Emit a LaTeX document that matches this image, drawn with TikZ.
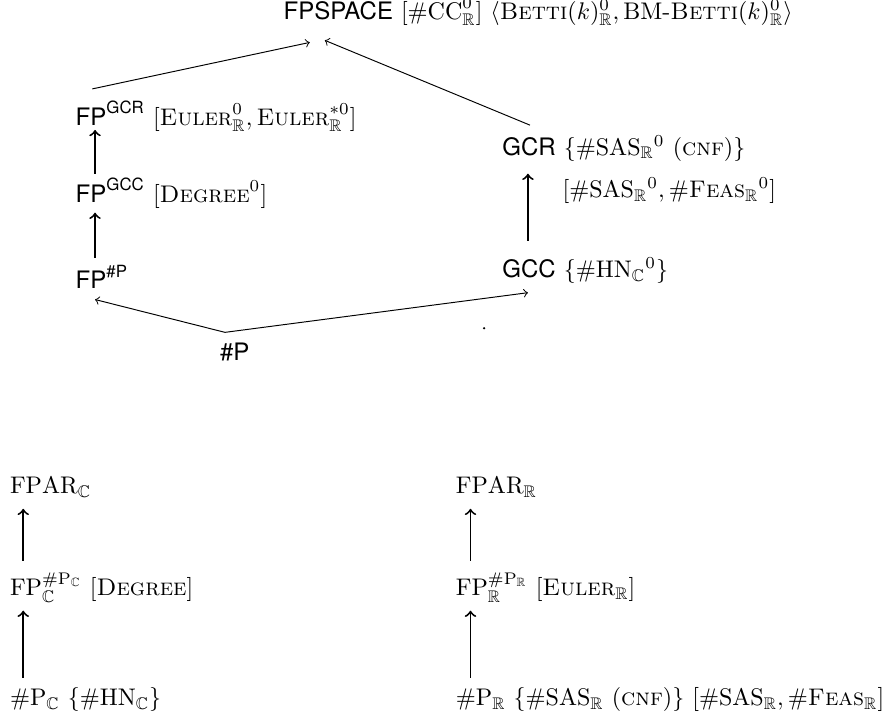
\documentclass[tikz,border=0pt]{standalone}
\usepackage{amsmath}
\usepackage{amssymb}
\usepackage{fontspec}
\setsansfont{TeX Gyre Heros}
\usepackage{tikz}
\newcommand{\Rb}{\mathbb{R}}
\newcommand{\Cb}{\mathbb{C}}
\newcommand{\Sc}[1]{\text{\textsc{#1}}}
\tikzset{lbl/.style={anchor=base west, inner sep=0pt},
	up/.style={thick,->},
	slant/.style={->}}

\begin{document}
\begin{tikzpicture}
			\useasboundingbox (0,0) rectangle (13.00,10.61);
			% upper part
			\node[lbl] (fpspace) at (4.14,10.33) {\textsf{FPSPACE} $[\#\mathrm{CC}^0_{\Rb}]$ $\langle\Sc{Betti}(k)^0_{\Rb}, \text{BM-}\Sc{Betti}(k)^0_{\Rb}\rangle$};
			\node[lbl] (fpgcr) at (1.10,8.78) {$\textsf{FP}^{\textsf{GCR}}$ $[\Sc{Euler}^0_{\Rb}, \Sc{Euler}^{*0}_{\Rb}]$};
			\node[lbl] (fpgcc) at (1.10,7.65) {$\textsf{FP}^{\textsf{GCC}}$ $[\Sc{Degree}^0]$};
			\node[lbl] (fpsp) at (1.10,6.39) {$\textsf{FP}^{\textsf{\#P}}$};
			\node[lbl] (sharpp) at (3.21,5.34) {\textsf{\#P}};
			\node[lbl] (gcr) at (7.34,8.34) {\textsf{GCR} $\{\#\mathrm{SAS}_{\Rb}{}^0$ (\textsc{cnf})$\}$};
			\node[lbl] (gcrb) at (8.22,7.72) {$[\#\mathrm{SAS}_{\Rb}{}^0, \#\Sc{Feas}_{\Rb}{}^0]$};
			\node[lbl] (gcc) at (7.34,6.55) {\textsf{GCC} $\{\#\mathrm{HN}_{\Cb}{}^0\}$};
			\coordinate (apex) at ([shift={(0.08,0.41)}]sharpp.base west);
			
			\draw[slant] ([shift={(0.25,0.53)}]fpgcr.base west) -- ([shift={(0.39,-0.34)}]fpspace.base west);
			\draw[slant] ([shift={(0.41,0.44)}]gcr.base west) -- ([shift={(0.61,-0.31)}]fpspace.base west);
			\draw[up] ([shift={(0.29,0.42)}]fpgcc.base west) -- ([shift={(0.29,-0.07)}]fpgcr.base west);
			\draw[up] ([shift={(0.29,0.45)}]fpsp.base west) -- ([shift={(0.29,-0.15)}]fpgcc.base west);
			\draw[slant] (apex) -- ([shift={(0.29,-0.16)}]fpsp.base west);
			\draw[slant] (apex) -- ([shift={(0.38,-0.22)}]gcc.base west);
			\draw[up] ([shift={(0.38,0.54)}]gcc.base west) -- ([shift={(0.38,-0.27)}]gcr.base west);
			\fill (7.08,5.81) circle (0.5pt);
			
			% lower part
			\node[lbl] (fparc) at (0.14,3.39) {$\mathrm{FPAR}_{\Cb}$};
			\node[lbl] (fpc) at (0.14,1.90) {$\mathrm{FP}_{\Cb}^{\#\mathrm{P}_{\Cb}}$ $[\Sc{Degree}]$};
			\node[lbl] (pc) at (0.14,0.29) {$\#\mathrm{P}_{\Cb}$ $\{\#\mathrm{HN}_{\Cb}\}$};
			\node[lbl] (fparr) at (6.66,3.39) {$\mathrm{FPAR}_{\Rb}$};
			\node[lbl] (fpr) at (6.66,1.90) {$\mathrm{FP}_{\Rb}^{\#\mathrm{P}_{\Rb}}$ $[\Sc{Euler}_{\Rb}]$};
			\node[lbl] (pr) at (6.66,0.29) {$\#\mathrm{P}_{\Rb}$ $\{\#\mathrm{SAS}_{\Rb}$ (\textsc{cnf})$\}$ $[\#\mathrm{SAS}_{\Rb}, \#\Sc{Feas}_{\Rb}]$};
			
			\draw[up] ([shift={(0.20,0.51)}]fpc.base west) -- ([shift={(0.20,-0.22)}]fparc.base west);
			\draw[up] ([shift={(0.20,0.41)}]pc.base west) -- ([shift={(0.20,-0.22)}]fpc.base west);
			\draw[up] ([shift={(0.22,0.51)}]fpr.base west) -- ([shift={(0.22,-0.22)}]fparr.base west);
			\draw[up] ([shift={(0.22,0.41)}]pr.base west) -- ([shift={(0.22,-0.22)}]fpr.base west);
		\end{tikzpicture}
\end{document}
